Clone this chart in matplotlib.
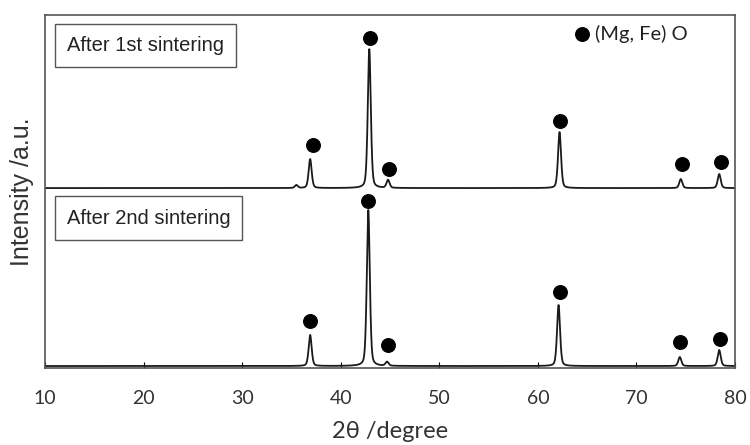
import numpy as np
import matplotlib
matplotlib.use("Agg")
import matplotlib.pyplot as plt

plt.rcParams['font.family'] = ['Lato', 'DejaVu Sans']

# peak positions (2theta) and heights for each pattern
pos_1st = [35.5, 36.9, 42.9, 44.8, 62.2, 74.5, 78.4]
hgt_1st = [3, 29, 139, 8, 56, 9, 14]
pos_2nd = [36.9, 42.8, 44.7, 62.1, 74.4, 78.4]
hgt_2nd = [31, 156, 4, 61, 9, 16]

# (Mg, Fe) O marker positions
dot_x_1st = [37.2, 43.0, 44.9, 62.2, 74.6, 78.6]
dot_y_1st = [223, 330, 199, 247, 204, 206]
dot_x_2nd = [36.9, 42.8, 44.8, 62.2, 74.4, 78.5]
dot_y_2nd = [47, 167, 23, 76, 26, 29]

base_1st = 180
base_2nd = 2
width = 0.16

x = np.linspace(10, 80, 7001)


def pattern(pos, hgt, base):
    y = np.full_like(x, base, dtype=float)
    for p, h in zip(pos, hgt):
        y += h * (0.6 * np.exp(-0.5 * ((x - p) / width) ** 2)
                  + 0.4 / (1 + ((x - p) / width) ** 2))
    return y


fig = plt.figure(figsize=(7.5, 4.45), dpi=100)
ax = fig.add_axes([0.06, 0.173, 0.92, 0.793])

ax.plot(x, pattern(pos_1st, hgt_1st, base_1st), color='#1a1a1a', lw=1.3)
ax.plot(x, pattern(pos_2nd, hgt_2nd, base_2nd), color='#1a1a1a', lw=1.3)

ax.scatter(dot_x_1st, dot_y_1st, s=95, color='black', zorder=5)
ax.scatter(dot_x_2nd, dot_y_2nd, s=95, color='black', zorder=5)

# legend marker
ax.scatter([64.5], [334], s=95, color='black', zorder=5)
ax.text(65.8, 334, '(Mg, Fe) O', fontsize=14.5, va='center', color='#222222')

box = dict(boxstyle='square,pad=0.6', fc='white', ec='#555555', lw=1)
ax.text(12.2, 323, 'After 1st sintering', fontsize=14.5, va='center',
        color='#222222', bbox=box, family='Liberation Sans')
ax.text(12.2, 150, 'After 2nd sintering', fontsize=14.5, va='center',
        color='#222222', bbox=box, family='Liberation Sans')

ax.set_xlim(10, 80)
ax.set_ylim(0, 353)
ax.set_xticks(range(10, 81, 10))
ax.set_yticks([])
ax.tick_params(axis='x', direction='in', length=4, labelsize=14, pad=16,
               labelcolor='#333333')
for s in ax.spines.values():
    s.set_color('#555555')
    s.set_linewidth(1.2)

ax.set_xlabel('2θ /degree', fontsize=17, color='#333333', labelpad=10)
ax.set_ylabel('Intensity /a.u.', fontsize=18, color='#333333', labelpad=8,
              family='Liberation Sans')

fig.savefig('out.png', dpi=100)
